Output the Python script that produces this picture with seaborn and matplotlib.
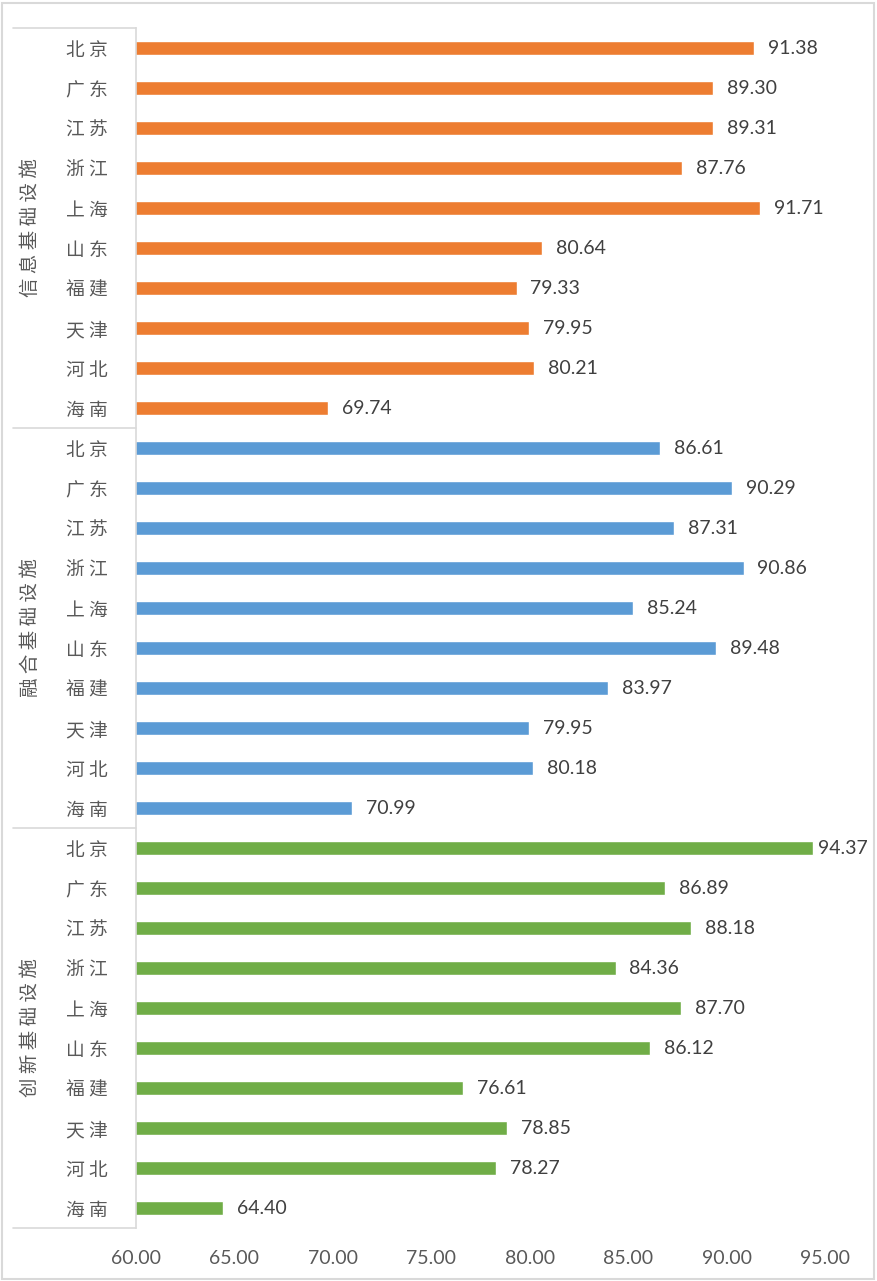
import pandas as pd
import seaborn as sns
import matplotlib.pyplot as plt
from matplotlib.patches import Rectangle
import matplotlib.transforms as mtransforms

# provinces repeated in every group, top to bottom
provinces = ['北京', '广东', '江苏', '浙江', '上海', '山东', '福建', '天津', '河北', '海南']
groups = ['信息基础设施', '融合基础设施', '创新基础设施']

info_vals = [91.38, 89.30, 89.31, 87.76, 91.71, 80.64, 79.33, 79.95, 80.21, 69.74]
fusion_vals = [86.61, 90.29, 87.31, 90.86, 85.24, 89.48, 83.97, 79.95, 80.18, 70.99]
innov_vals = [94.37, 86.89, 88.18, 84.36, 87.70, 86.12, 76.61, 78.85, 78.27, 64.40]

xticks = [60, 65, 70, 75, 80, 85, 90, 95]
colors = ['#ED7D31', '#5B9BD5', '#70AD47']

rows = []
for g, vals in zip(groups, [info_vals, fusion_vals, innov_vals]):
    for p, v in zip(provinces, vals):
        rows.append({'key': g + '|' + p, 'group': g, 'province': p, 'value': v})
df = pd.DataFrame(rows)

sns.set_style('white')
plt.rcParams['font.family'] = ['Noto Sans CJK SC', 'DejaVu Sans']

fig = plt.figure(figsize=(8.77, 12.81), dpi=100)
W, H = 877, 1281
L, AW = 136, 689
ax = fig.add_axes([L / W, 1 - 1228 / H, AW / W, 1200 / H])

sns.barplot(data=df, y='key', x='value', hue='group', palette=colors,
            saturation=1, dodge=False, width=0.35, orient='h', legend=False,
            ax=ax)

ax.set_xlim(60, 95)
ax.set_ylim(len(df) - 0.5, -0.5)
ax.set_xticks(xticks)
ax.set_xticklabels([f'{t:.2f}' for t in xticks], family='Lato',
                   fontsize=14, color='#595959')
ax.set_yticks(range(len(df)))
ax.set_yticklabels([' '.join(p) for p in df['province']], fontsize=13.5,
                   color='#595959')
ax.tick_params(axis='y', length=0, pad=20)
ax.tick_params(axis='x', length=0, pad=16)
ax.set_xlabel('')
ax.set_ylabel('')

for s in ['top', 'right', 'bottom']:
    ax.spines[s].set_visible(False)
ax.spines['left'].set_color('#D9D9D9')
ax.spines['left'].set_linewidth(1.2)

for c in ax.containers:
    texts = ax.bar_label(c, fmt='%.2f', padding=10, family='Lato',
                         fontsize=14, color='#404040')
    # labels near the right edge are pulled in closer to the bar
    for bar, t in zip(c, texts):
        if bar.get_width() > 94:
            t.xyann = (4, 0)

# group separators and vertical group labels
trans = mtransforms.blended_transform_factory(ax.transAxes, ax.transData)
x0 = (13 - L) / AW
for i, g in enumerate(groups):
    ax.plot([x0, 0], [i * 10 - 0.5, i * 10 - 0.5], color='#D9D9D9', lw=1.2,
            transform=trans, clip_on=False)
    ax.text((30 - L) / AW, i * 10 + 4.5, ' '.join(g), rotation=90,
            ha='center', va='center', fontsize=14, color='#595959',
            transform=trans)
ax.plot([x0, 0], [29.5, 29.5], color='#D9D9D9', lw=1.2, transform=trans,
        clip_on=False)

# outer chart frame
fig.patches.append(Rectangle((2 / W, 2 / H), 1 - 5 / W, 1 - 5 / H,
                             transform=fig.transFigure, fill=False,
                             edgecolor='#D9D9D9', lw=1.5))

fig.savefig('out.png', dpi=100)
